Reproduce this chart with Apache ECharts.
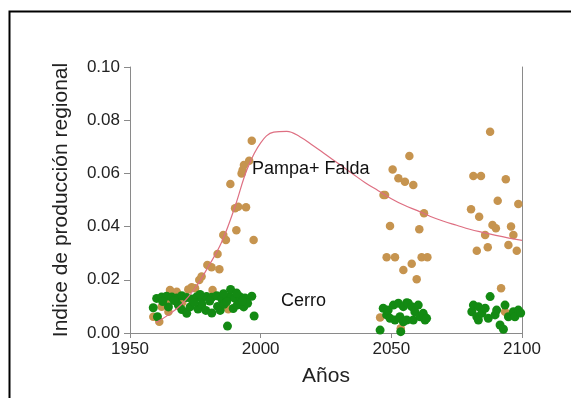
<!DOCTYPE html>
<html>
<head>
<meta charset="utf-8">
<script src="https://cdn.jsdelivr.net/npm/echarts@6/dist/echarts.min.js"></script>
<style>html,body{margin:0;padding:0;background:#fff}#c{width:571px;height:398px}</style>
</head>
<body>
<div id="c"></div>
<script>
// Tick labels
const xTicks = [1950, 2000, 2050, 2100];
const yTicks = [0.00, 0.02, 0.04, 0.06, 0.08, 0.10];

// Pampa + Falda observations [year, value]
const pampaYears = [1958.9,1961.2,1962.1,1964.0,1964.7,1965.3,1967.9,1970.0,1972.3,1973.6,1974.9,1976.5,1977.4,1979.6,1981.2,1981.6,1983.5,1984.2,1985.7,1986.7,1987.6,1988.4,1990.2,1990.7,1991.4,1992.7,1993.1,1993.6,1994.4,1995.6,1996.6,1997.3,
  2045.7,2047.0,2047.6,2048.2,2049.5,2050.5,2051.4,2052.7,2053.6,2054.6,2055.2,2056.9,2057.8,2058.4,2059.7,2060.7,2061.6,2062.5,2063.8,
  2080.5,2081.4,2082.7,2083.6,2084.3,2085.9,2086.9,2087.8,2088.7,2090.0,2090.7,2092.0,2093.5,2093.8,2094.8,2095.8,2096.7,2098.0,2098.6];
const pampaValues = [0.0061,0.0042,0.0099,0.0124,0.0080,0.0162,0.0155,0.0115,0.0164,0.0172,0.0168,0.0199,0.0212,0.0256,0.0247,0.0162,0.0297,0.0240,0.0368,0.0350,0.0089,0.0560,0.0469,0.0386,0.0475,0.0600,0.0613,0.0632,0.0473,0.0648,0.0723,0.0350,
  0.0058,0.0519,0.0519,0.0285,0.0402,0.0615,0.0285,0.0582,0.0018,0.0237,0.0569,0.0665,0.0260,0.0556,0.0202,0.0390,0.0285,0.0450,0.0285,
  0.0465,0.0590,0.0309,0.0437,0.0590,0.0368,0.0322,0.0757,0.0406,0.0394,0.0497,0.0168,0.0080,0.0578,0.0331,0.0400,0.0368,0.0309,0.0485];

// Cerro observations [year, value]
const cerroYears = [1960.2,1962.1,1964.0,1966.0,1967.9,1969.8,1971.7,1973.6,1975.5,1977.4,1979.3,1981.3,1983.2,1985.1,1988.3,1990.2,1992.1,1994.0,1996.6,
  1958.9,1960.5,1964.7,1968.5,1969.8,1971.7,1973.0,1976.0,1977.5,1979.0,1981.3,1983.5,1984.5,1986.0,1987.3,1988.5,1989.5,1991.0,1993.5,1995.0,1997.5,
  1962.5,1966.8,1974.5,1980.5,1987.0,1993.0,1976.8,1985.8,1990.8,
  2045.7,2046.9,2048.2,2048.8,2049.5,2050.8,2051.4,2052.7,2053.3,2053.6,2054.6,2054.6,2055.9,2055.9,2056.5,2057.8,2058.4,2059.0,2060.3,2061.0,2062.2,2062.9,2063.5,
  2080.8,2081.4,2082.7,2083.3,2083.3,2084.6,2085.9,2087.1,2087.8,2089.7,2090.3,2091.6,2092.9,2093.5,2094.8,2096.7,2097.3,2098.6,2099.5];
const cerroValues = [0.0130,0.0135,0.0138,0.0135,0.0132,0.0140,0.0133,0.0128,0.0136,0.0130,0.0137,0.0134,0.0140,0.0128,0.0135,0.0130,0.0136,0.0132,0.0138,
  0.0095,0.0061,0.0098,0.0105,0.0088,0.0074,0.0098,0.0090,0.0108,0.0085,0.0075,0.0100,0.0085,0.0108,0.0026,0.0164,0.0092,0.0105,0.0098,0.0112,0.0064,
  0.0118,0.0122,0.0115,0.0120,0.0118,0.0120,0.0145,0.0148,0.0150,
  0.0011,0.0093,0.0068,0.0086,0.0055,0.0105,0.0049,0.0112,0.0061,0.0005,0.0099,0.0042,0.0049,0.0114,0.0112,0.0099,0.0049,0.0080,0.0105,0.0061,0.0074,0.0049,0.0055,
  0.0080,0.0105,0.0061,0.0099,0.0049,0.0074,0.0093,0.0055,0.0137,0.0068,0.0086,0.0030,0.0014,0.0105,0.0061,0.0080,0.0061,0.0086,0.0075];

// Fitted curve for Pampa + Falda
const fitYears = [1960,1965,1970,1975,1980,1985,1990,1995,2000,2005,2010,2015,2020,2025,2030,2035,2040,2045,2050,2055,2060,2065,2070,2075,2080,2085,2090,2095,2100];
const fitValues = [0.004,0.007,0.011,0.017,0.025,0.034,0.047,0.062,0.0715,0.0755,0.0758,0.0738,0.0705,0.067,0.0635,0.060,0.0565,0.0535,0.0505,0.048,0.046,0.0438,0.042,0.0405,0.039,0.0378,0.0367,0.0357,0.0348];

const zip = (a, b) => a.map((v, i) => [v, b[i]]);
const FONT = 'Liberation Sans';

const chart = echarts.init(document.getElementById('c'), null, {renderer: 'canvas'});
chart.setOption({
  animation: false,
  backgroundColor: '#fff',
  grid: {left: 130, right: 49, top: 67, bottom: 65},
  xAxis: [{
    type: 'value', min: xTicks[0], max: xTicks[xTicks.length - 1], interval: 50,
    name: 'Años', nameLocation: 'middle', nameGap: 33,
    nameTextStyle: {fontFamily: FONT, fontSize: 21, color: '#222'},
    axisLine: {show: true, lineStyle: {color: '#8a8a8a', width: 1}},
    axisTick: {show: true, length: 5, lineStyle: {color: '#8a8a8a'}},
    axisLabel: {fontFamily: FONT, fontSize: 17, color: '#222', margin: 8,
      formatter: v => xTicks.includes(v) ? String(v) : ''},
    splitLine: {show: false}
  }, {
    type: 'value', position: 'top', min: 1950, max: 2100,
    axisLine: {show: true, lineStyle: {color: '#8a8a8a', width: 1}},
    axisTick: {show: false}, axisLabel: {show: false}, splitLine: {show: false}
  }],
  yAxis: [{
    type: 'value', min: yTicks[0], max: yTicks[yTicks.length - 1], interval: 0.02,
    name: 'Indice de producción regional', nameLocation: 'middle', nameGap: 58, nameRotate: 90,
    nameTextStyle: {fontFamily: FONT, fontSize: 21, color: '#222'},
    axisLine: {show: true, lineStyle: {color: '#8a8a8a', width: 1}},
    axisTick: {show: true, length: 6, lineStyle: {color: '#8a8a8a'}},
    axisLabel: {fontFamily: FONT, fontSize: 17, color: '#222', margin: 10,
      formatter: v => v.toFixed(2)},
    splitLine: {show: false}
  }, {
    type: 'value', position: 'right', min: 0, max: 0.1,
    axisLine: {show: true, lineStyle: {color: '#8a8a8a', width: 1}},
    axisTick: {show: false}, axisLabel: {show: false}, splitLine: {show: false}
  }],
  series: [{
    name: 'Pampa+ Falda', type: 'scatter', data: zip(pampaYears, pampaValues),
    symbolSize: 8.5, itemStyle: {color: '#c6944f', opacity: 1}, z: 2
  }, {
    name: 'Cerro', type: 'scatter', data: zip(cerroYears, cerroValues),
    symbolSize: 9, itemStyle: {color: '#138a13', opacity: 1}, z: 3
  }, {
    name: 'fit', type: 'line', data: zip(fitYears, fitValues), smooth: 0.4,
    showSymbol: false, lineStyle: {color: '#de6f82', width: 1.2}, z: 4
  }],
  graphic: [
    {type: 'rect', left: 7, top: 9, shape: {width: 600, height: 420},
      style: {fill: 'none', stroke: '#000', lineWidth: 2}, silent: true},
    {type: 'text', left: 252, top: 160, style: {text: 'Pampa+ Falda', fontFamily: FONT, fontSize: 18, fill: '#111'}, z: 10},
    {type: 'text', left: 281, top: 292, style: {text: 'Cerro', fontFamily: FONT, fontSize: 18, fill: '#111'}, z: 10}
  ]
});
</script>
</body>
</html>
